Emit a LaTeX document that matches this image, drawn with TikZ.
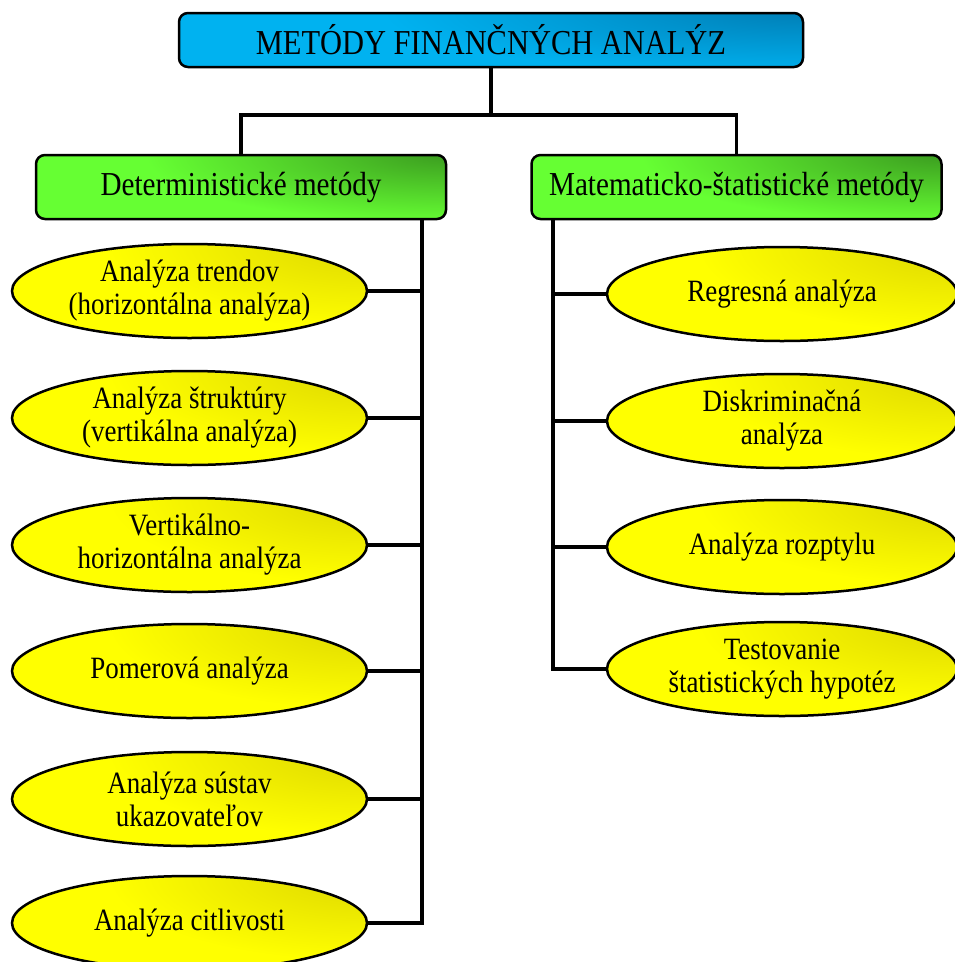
\documentclass[tikz,border=0pt]{standalone}
\usepackage{fontspec}
\setmainfont[FakeStretch=0.87]{Liberation Serif}
\usetikzlibrary{shapes.geometric}
\definecolor{bluelight}{RGB}{0,178,240}
\definecolor{bluedark}{RGB}{0,128,184}
\definecolor{greenlight}{RGB}{102,255,51}
\definecolor{greendark}{RGB}{60,158,32}
\definecolor{yellowlight}{RGB}{255,255,0}
\definecolor{yellowdark}{RGB}{222,216,0}
\pgfdeclareradialshading{blueshade}{\pgfpoint{0bp}{0bp}}{color(0bp)=(bluedark); color(16bp)=(bluelight); color(50bp)=(bluelight)}
\pgfdeclareradialshading{greenshade}{\pgfpoint{0bp}{0bp}}{color(0bp)=(greendark); color(16bp)=(greenlight); color(50bp)=(greenlight)}
\pgfdeclareradialshading{yellowshade}{\pgfpoint{0bp}{0bp}}{color(0bp)=(yellowdark); color(16bp)=(yellowlight); color(50bp)=(yellowlight)}
\begin{document}
\begin{tikzpicture}[x=1pt,y=-1pt,
  cornershade/.style n args={4}{fill=#1, path picture={
    \shade[shading=#2] ([xshift=-#3,yshift=-#4]path picture bounding box.north east) rectangle ([xshift=#3,yshift=#4]path picture bounding box.north east);}},
  titlebox/.style={draw, line width=2.5pt, rounded corners=9pt, minimum width=624pt, minimum height=54pt, inner sep=0pt,
    cornershade={bluelight}{blueshade}{656pt}{97pt},
    font=\fontsize{35}{40}\selectfont},
  groupbox/.style={draw, line width=2.5pt, rounded corners=9pt, minimum width=410pt, minimum height=64pt, inner sep=0pt,
    cornershade={greenlight}{greenshade}{469pt}{106pt},
    font=\fontsize{33.5}{38}\selectfont},
  methodell/.style={draw, line width=2.5pt, ellipse, minimum width=355pt, minimum height=94pt, inner sep=0pt, align=center,
    cornershade={yellowlight}{yellowshade}{406pt}{133pt},
    font=\fontsize{31}{33}\selectfont},
  rightell/.style={methodell, minimum width=350pt},
  conn/.style={line width=3.6pt}]
\useasboundingbox (0,0) rectangle (955,962);
\clip (0,0) rectangle (955,962);

\coordinate (jt) at (491,115);
\node[titlebox] (top) at (491,40) {METÓDY FINANČNÝCH ANALÝZ};
\node[groupbox] (det) at (241,187) {Deterministické metódy};
\node[groupbox] (mat) at (736.5,187) {Matematicko-štatistické metódy};

\draw[conn] (top.south) -- (jt);
\draw[conn] (det.north) |- (jt) -| (mat.north);

\coordinate (ls) at ([xshift=-25pt]det.south east);
\coordinate (rs) at ([xshift=23pt]mat.south west);

\node[methodell] (e1) at (189.5,291) {Analýza trendov\\(horizontálna analýza)};
\node[methodell] (e2) at (189.5,418) {Analýza štruktúry\\(vertikálna analýza)};
\node[methodell] (e3) at (189.5,545) {Vertikálno-\\horizontálna analýza};
\node[methodell] (e4) at (189.5,671) {Pomerová analýza};
\node[methodell] (e5) at (189.5,799) {Analýza sústav\\ukazovateľov};
\node[methodell] (e6) at (189.5,923) {Analýza citlivosti};

\node[rightell] (r1) at (782,294) {Regresná analýza};
\node[rightell] (r2) at (782,421) {Diskriminačná\\analýza};
\node[rightell] (r3) at (782,547) {Analýza rozptylu};
\node[rightell] (r4) at (782,669) {Testovanie\\štatistických hypotéz};

\draw[conn] (ls) |- (e6.east);
\foreach \n in {e1,e2,e3,e4,e5}
  \draw[conn] (\n.east) -- (\n.east -| ls);

\draw[conn] (rs) |- (r4.west);
\foreach \n in {r1,r2,r3}
  \draw[conn] (\n.west) -- (\n.west -| rs);
\end{tikzpicture}
\end{document}
